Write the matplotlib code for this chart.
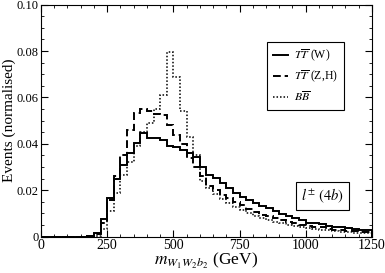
import numpy as np
import matplotlib
matplotlib.use("Agg")
import matplotlib.pyplot as plt
from matplotlib.ticker import MultipleLocator

plt.rcParams['font.family'] = ['Liberation Serif', 'DejaVu Serif']
plt.rcParams['mathtext.fontset'] = 'stix'

# histogram bin edges (GeV), 25 GeV bins
edges = np.arange(0, 1251, 25)

# T Tbar (W)  -- values for bins starting at 0, 25, ..., 1225
tt_w = [0, 0, 0, 0, 0, 0, 0, 0.0004,
        0.0015, 0.0075, 0.0165, 0.025, 0.031, 0.036, 0.0405, 0.0447,
        0.0425, 0.0424, 0.0415, 0.039, 0.0388, 0.0374, 0.036, 0.0345,
        0.030, 0.0266, 0.0252, 0.023, 0.0209, 0.0187, 0.0172, 0.0158,
        0.0145, 0.0132, 0.0122, 0.0112, 0.0098, 0.0088, 0.0080, 0.0072,
        0.0058, 0.006, 0.0055, 0.0048, 0.0043, 0.004, 0.0036, 0.0034,
        0.003, 0.003]

# T Tbar (Z,H)
tt_zh = [0, 0, 0, 0, 0, 0, 0, 0.0003,
         0.001, 0.006, 0.016, 0.026, 0.035, 0.046, 0.0535, 0.055,
         0.054, 0.053, 0.0525, 0.048, 0.044, 0.040, 0.034, 0.030,
         0.026, 0.022, 0.020, 0.018, 0.0165, 0.015, 0.0135, 0.012,
         0.0107, 0.0095, 0.0088, 0.008, 0.007, 0.0063, 0.0058, 0.0052,
         0.0048, 0.0042, 0.004, 0.0034, 0.003, 0.0028, 0.0025, 0.0023,
         0.002, 0.002]

# B Bbar
bb = [0, 0, 0, 0, 0, 0, 0, 0,
      0.0005, 0.0035, 0.011, 0.019, 0.0265, 0.032, 0.039, 0.045,
      0.049, 0.055, 0.061, 0.0797, 0.069, 0.054, 0.043, 0.035,
      0.024, 0.021, 0.0185, 0.0162, 0.0145, 0.013, 0.0115, 0.0102,
      0.009, 0.008, 0.0072, 0.0064, 0.0057, 0.005, 0.0045, 0.004,
      0.0037, 0.0033, 0.003, 0.0027, 0.0024, 0.0022, 0.002, 0.0018,
      0.0016, 0.0015]

labels = [r'$T\overline{T}$ (W)', r'$T\overline{T}$ (Z,H)', r'$B\overline{B}$']

fig = plt.figure(figsize=(3.85, 2.73), dpi=100)
ax = fig.add_axes([0.1065, 0.133, 0.8595, 0.85])

ax.stairs(tt_w, edges, color='black', lw=1.4, ls='-', label=labels[0])
ax.stairs(tt_zh, edges, color='black', lw=1.4, ls=(0, (4, 2)), label=labels[1])
ax.stairs(bb, edges, color='black', lw=1.1, ls=(0, (1, 1.3)), label=labels[2])

ax.set_xlim(0, 1250)
ax.set_ylim(0, 0.10)
ax.xaxis.set_major_locator(MultipleLocator(250))
ax.xaxis.set_minor_locator(MultipleLocator(50))
ax.yaxis.set_minor_locator(MultipleLocator(0.005))
ax.set_yticks([0, 0.02, 0.04, 0.06, 0.08, 0.10])
ax.set_yticklabels(['0', '0.02', '0.04', '0.06', '0.08', '0.10'])
ax.tick_params(which='both', direction='in', top=True, right=True, labelsize=10)
ax.tick_params(axis='y', labelsize=9, pad=1.5)
ax.tick_params(which='major', length=5, width=0.8)
ax.tick_params(axis='x', pad=2)
ax.tick_params(which='minor', length=2.5, width=0.6)
for s in ax.spines.values():
    s.set_linewidth(0.8)

ax.set_xlabel(r'$m_{W_1W_2b_2}$ (GeV)', fontsize=12.5, labelpad=-1)
ax.set_ylabel('Events (normalised)', fontsize=11)
ax.yaxis.set_label_coords(-0.0745, 0.5)

leg = ax.legend(loc='upper right', bbox_to_anchor=(0.915, 0.84), fontsize=8.5,
                handlelength=1.3, handletextpad=0.5, borderpad=0.5,
                labelspacing=0.4, fancybox=False, framealpha=1,
                borderaxespad=0)
leg.get_frame().set_edgecolor('black')
leg.get_frame().set_linewidth(0.8)

ax.text(0.915, 0.175, r'$l^{\pm}\ (4b)$', transform=ax.transAxes, fontsize=10.5,
        ha='right', va='center',
        bbox=dict(boxstyle='square,pad=0.35', fc='white', ec='black', lw=0.8))

fig.savefig('out.png', dpi=100)
